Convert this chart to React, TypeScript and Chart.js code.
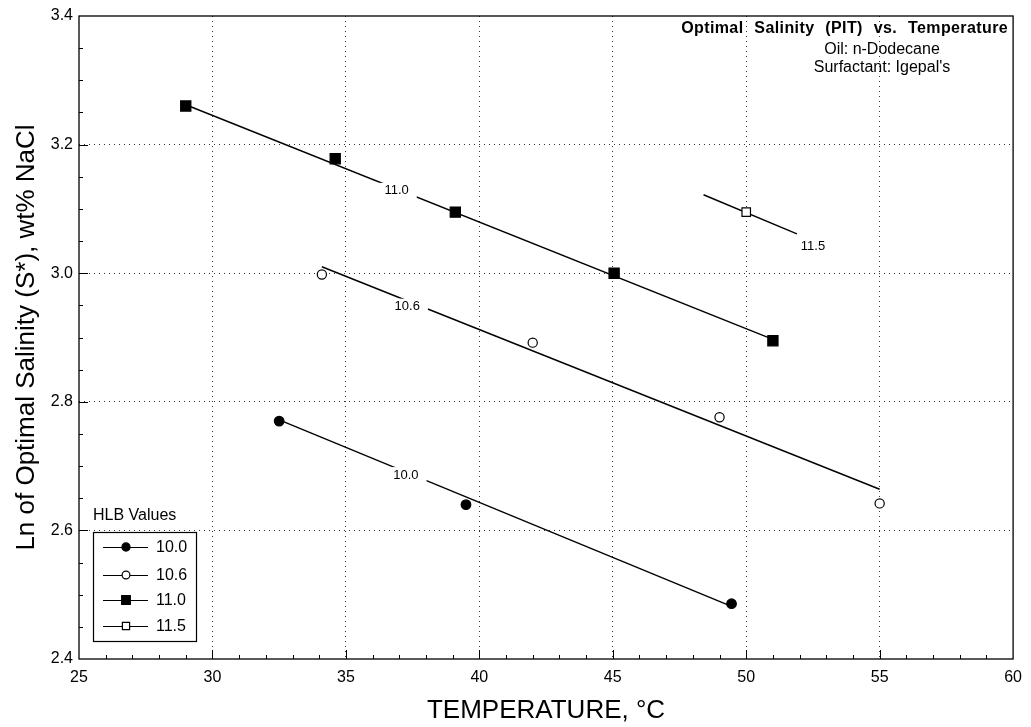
import React, { useEffect, useRef } from 'react';
import { Chart, registerables } from 'chart.js';

Chart.register(...registerables);

const FONT = "'Liberation Sans', Arial, Helvetica, sans-serif";

// ---- data ----
const hlbLabels = ['10.0', '10.6', '11.0', '11.5'];

const temp100 = [32.5, 39.5, 49.45];
const sal100 = [2.77, 2.64, 2.486];

const temp106 = [34.1, 42.0, 49.0, 55.0];
const sal106 = [2.998, 2.892, 2.776, 2.642];

const temp110 = [29.0, 34.6, 39.1, 45.05, 51.0];
const sal110 = [3.26, 3.178, 3.095, 3.0, 2.895];

const temp115 = [50.0];
const sal115 = [3.095];

// fitted lines (end points)
const fitX100 = [32.5, 49.45];
const fitY100 = [2.772, 2.482];
const fitX106 = [34.1, 55.0];
const fitY106 = [3.01, 2.664];
const fitX110 = [29.0, 51.0];
const fitY110 = [3.262, 2.897];
const fitX115 = [48.4, 51.9];
const fitY115 = [3.122, 3.061];

// in-line labels on the fitted lines
const lineLabelText = ['10.0', '10.6', '11.0', '11.5'];
const lineLabelX = [37.25, 37.3, 36.9, 52.5];
const lineLabelY = [2.686, 2.948, 3.128, 3.042];
const lineLabelGap = [true, true, true, false];

// axis ticks
const xMin = 25, xMax = 60, xStep = 5, xMinorStep = 1;
const yMin = 2.4, yMax = 3.4, yStep = 0.2, yMinorStep = 0.05;

// annotation text
const titleLines = ['Optimal Salinity (PIT) vs. Temperature', 'Oil: n-Dodecane', "Surfactant: Igepal's"];
const legendTitle = 'HLB Values';

type Marker = { style: 'circle' | 'rect'; filled: boolean; radius: number };
const markers: Marker[] = [
  { style: 'circle', filled: true, radius: 4.8 },
  { style: 'circle', filled: false, radius: 4.6 },
  { style: 'rect', filled: true, radius: 7.2 },
  { style: 'rect', filled: false, radius: 6 },
];

const zip = (xs: number[], ys: number[]) => xs.map((x, i) => ({ x, y: ys[i] }));

function drawMarker(ctx: CanvasRenderingContext2D, m: Marker, x: number, y: number, r: number) {
  ctx.save();
  ctx.lineWidth = 1.2;
  ctx.strokeStyle = '#000';
  ctx.fillStyle = m.filled ? '#000' : '#fff';
  ctx.beginPath();
  if (m.style === 'circle') {
    ctx.arc(x, y, r, 0, Math.PI * 2);
  } else {
    const s = r * Math.SQRT1_2;
    ctx.rect(x - s, y - s, 2 * s, 2 * s);
  }
  ctx.fill();
  ctx.stroke();
  ctx.restore();
}

const decorPlugin = {
  id: 'decor',
  afterDatasetsDraw(chart: any) {
    const ctx: CanvasRenderingContext2D = chart.ctx;
    const xs = chart.scales.x;
    const ys = chart.scales.y;
    // in-line labels with a gap in the line
    ctx.save();
    ctx.font = `13px ${FONT}`;
    ctx.textAlign = 'center';
    ctx.textBaseline = 'middle';
    lineLabelText.forEach((t, i) => {
      const px = xs.getPixelForValue(lineLabelX[i]);
      const py = ys.getPixelForValue(lineLabelY[i]);
      const w = ctx.measureText(t).width;
      if (lineLabelGap[i]) {
        ctx.fillStyle = '#fff';
        ctx.fillRect(px - w / 2 - 8, py - 8, w + 16, 16);
      }
      ctx.fillStyle = '#000';
      ctx.fillText(t, px, py);
    });
    ctx.restore();
  },
  afterDraw(chart: any) {
    const ctx: CanvasRenderingContext2D = chart.ctx;
    const { left, right, top, bottom } = chart.chartArea;
    const xs = chart.scales.x;
    const ys = chart.scales.y;
    ctx.save();
    // frame
    ctx.strokeStyle = '#000';
    ctx.lineWidth = 1.3;
    ctx.strokeRect(left, top, right - left, bottom - top);
    // inward ticks
    ctx.lineWidth = 1;
    ctx.beginPath();
    for (let v = xMin + xMinorStep; v < xMax - 1e-9; v += xMinorStep) {
      const major = Math.abs(v / xStep - Math.round(v / xStep)) < 1e-6;
      const p = Math.round(xs.getPixelForValue(v)) + 0.5;
      ctx.moveTo(p, bottom);
      ctx.lineTo(p, bottom - (major ? 9 : 4));
    }
    for (let v = yMin + yMinorStep; v < yMax - 1e-9; v += yMinorStep) {
      const major = Math.abs(v / yStep - Math.round(v / yStep)) < 1e-6;
      const p = Math.round(ys.getPixelForValue(v)) + 0.5;
      ctx.moveTo(left, p);
      ctx.lineTo(left + (major ? 9 : 4), p);
    }
    ctx.stroke();

    // title block (top right)
    ctx.fillStyle = '#000';
    ctx.textBaseline = 'middle';
    ctx.textAlign = 'right';
    ctx.font = `bold 16px ${FONT}`;
    (ctx as any).letterSpacing = '0.4px';
    (ctx as any).wordSpacing = '6px';
    ctx.fillText(titleLines[0], right - 5, top + 13);
    (ctx as any).wordSpacing = '0px';
    (ctx as any).letterSpacing = '0px';
    ctx.font = `16px ${FONT}`;
    ctx.textAlign = 'center';
    ctx.fillText(titleLines[1], 882, top + 34);
    ctx.fillText(titleLines[2], 882, top + 52);

    // legend box
    const bx = 93, by = 532, bw = 103, bh = 109;
    ctx.textAlign = 'left';
    ctx.font = `16px ${FONT}`;
    ctx.fillText(legendTitle, bx, by - 16);
    ctx.fillStyle = '#fff';
    ctx.fillRect(bx, by, bw, bh);
    ctx.lineWidth = 1.2;
    ctx.strokeStyle = '#000';
    ctx.strokeRect(bx + 0.5, by + 0.5, bw, bh);
    const rowY = [by + 15, by + 43, by + 68, by + 94];
    hlbLabels.forEach((lab, i) => {
      const y = rowY[i];
      ctx.beginPath();
      ctx.lineWidth = 1;
      ctx.moveTo(bx + 10, y + 0.5);
      ctx.lineTo(bx + 55, y + 0.5);
      ctx.stroke();
      drawMarker(ctx, markers[i], bx + 33, y, markers[i].radius * 0.85);
      ctx.fillStyle = '#000';
      ctx.font = `16px ${FONT}`;
      ctx.textBaseline = 'middle';
      ctx.fillText(lab, bx + 63, y + 1);
    });
    ctx.restore();
  },
};

export default function App() {
  const ref = useRef<HTMLCanvasElement | null>(null);

  useEffect(() => {
    if (!ref.current) return;
    const pointSets = [
      zip(temp100, sal100),
      zip(temp106, sal106),
      zip(temp110, sal110),
      zip(temp115, sal115),
    ];
    const fitSets = [
      zip(fitX100, fitY100),
      zip(fitX106, fitY106),
      zip(fitX110, fitY110),
      zip(fitX115, fitY115),
    ];
    const datasets: any[] = [];
    pointSets.forEach((d, i) => {
      datasets.push({
        label: hlbLabels[i],
        data: d,
        showLine: false,
        pointStyle: markers[i].style,
        pointRadius: markers[i].radius,
        pointHoverRadius: markers[i].radius,
        pointBackgroundColor: markers[i].filled ? '#000' : '#fff',
        pointBorderColor: '#000',
        pointBorderWidth: 1.2,
        order: 0,
      });
    });
    fitSets.forEach((d, i) => {
      datasets.push({
        label: 'fit ' + hlbLabels[i],
        data: d,
        showLine: true,
        borderColor: '#000',
        borderWidth: 1.4,
        pointRadius: 0,
        fill: false,
        order: 1,
      });
    });

    const interiorGrid = (min: number, max: number) => (c: any) => {
      const v = c.tick?.value;
      if (v === undefined) return 'rgba(0,0,0,0)';
      return v > min + 1e-9 && v < max - 1e-9 ? '#333' : 'rgba(0,0,0,0)';
    };

    const chart = new Chart(ref.current, {
      type: 'scatter',
      data: { datasets },
      plugins: [decorPlugin],
      options: {
        responsive: false,
        animation: false,
        events: [],
        layout: { padding: { left: 0, top: 16, right: 14, bottom: 0 } },
        plugins: { legend: { display: false }, tooltip: { enabled: false }, title: { display: false } },
        scales: {
          x: {
            type: 'linear',
            min: xMin,
            max: xMax,
            ticks: {
              stepSize: xStep,
              color: '#000',
              font: { family: FONT, size: 16 },
              padding: 9,
              maxRotation: 0,
            },
            grid: { drawTicks: false, color: interiorGrid(xMin, xMax), lineWidth: 1 },
            border: { display: false, dash: [1, 4] },
            title: {
              display: true,
              text: 'TEMPERATURE, °C',
              color: '#000',
              font: { family: FONT, size: 26 },
              padding: { top: 0, bottom: 1 },
            },
            afterFit: (s: any) => { s.height = 68; },
          },
          y: {
            type: 'linear',
            min: yMin,
            max: yMax,
            ticks: {
              stepSize: yStep,
              color: '#000',
              font: { family: FONT, size: 16 },
              padding: 6,
              callback: (v: any) => Number(v).toFixed(1),
            },
            grid: { drawTicks: false, color: interiorGrid(yMin, yMax), lineWidth: 1 },
            border: { display: false, dash: [1, 4] },
            title: {
              display: true,
              text: 'Ln of Optimal Salinity (S*), wt% NaCl',
              color: '#000',
              font: { family: FONT, size: 26 },
              padding: { top: 11, bottom: 0 },
            },
            afterFit: (s: any) => { s.width = 79; },
          },
        },
      },
    });
    return () => chart.destroy();
  }, []);

  return (
    <div style={{ position: 'absolute', left: 0, top: 0, width: 1031, height: 727, background: '#fff' }}>
      <canvas ref={ref} width={1031} height={727} style={{ display: 'block' }} />
    </div>
  );
}
